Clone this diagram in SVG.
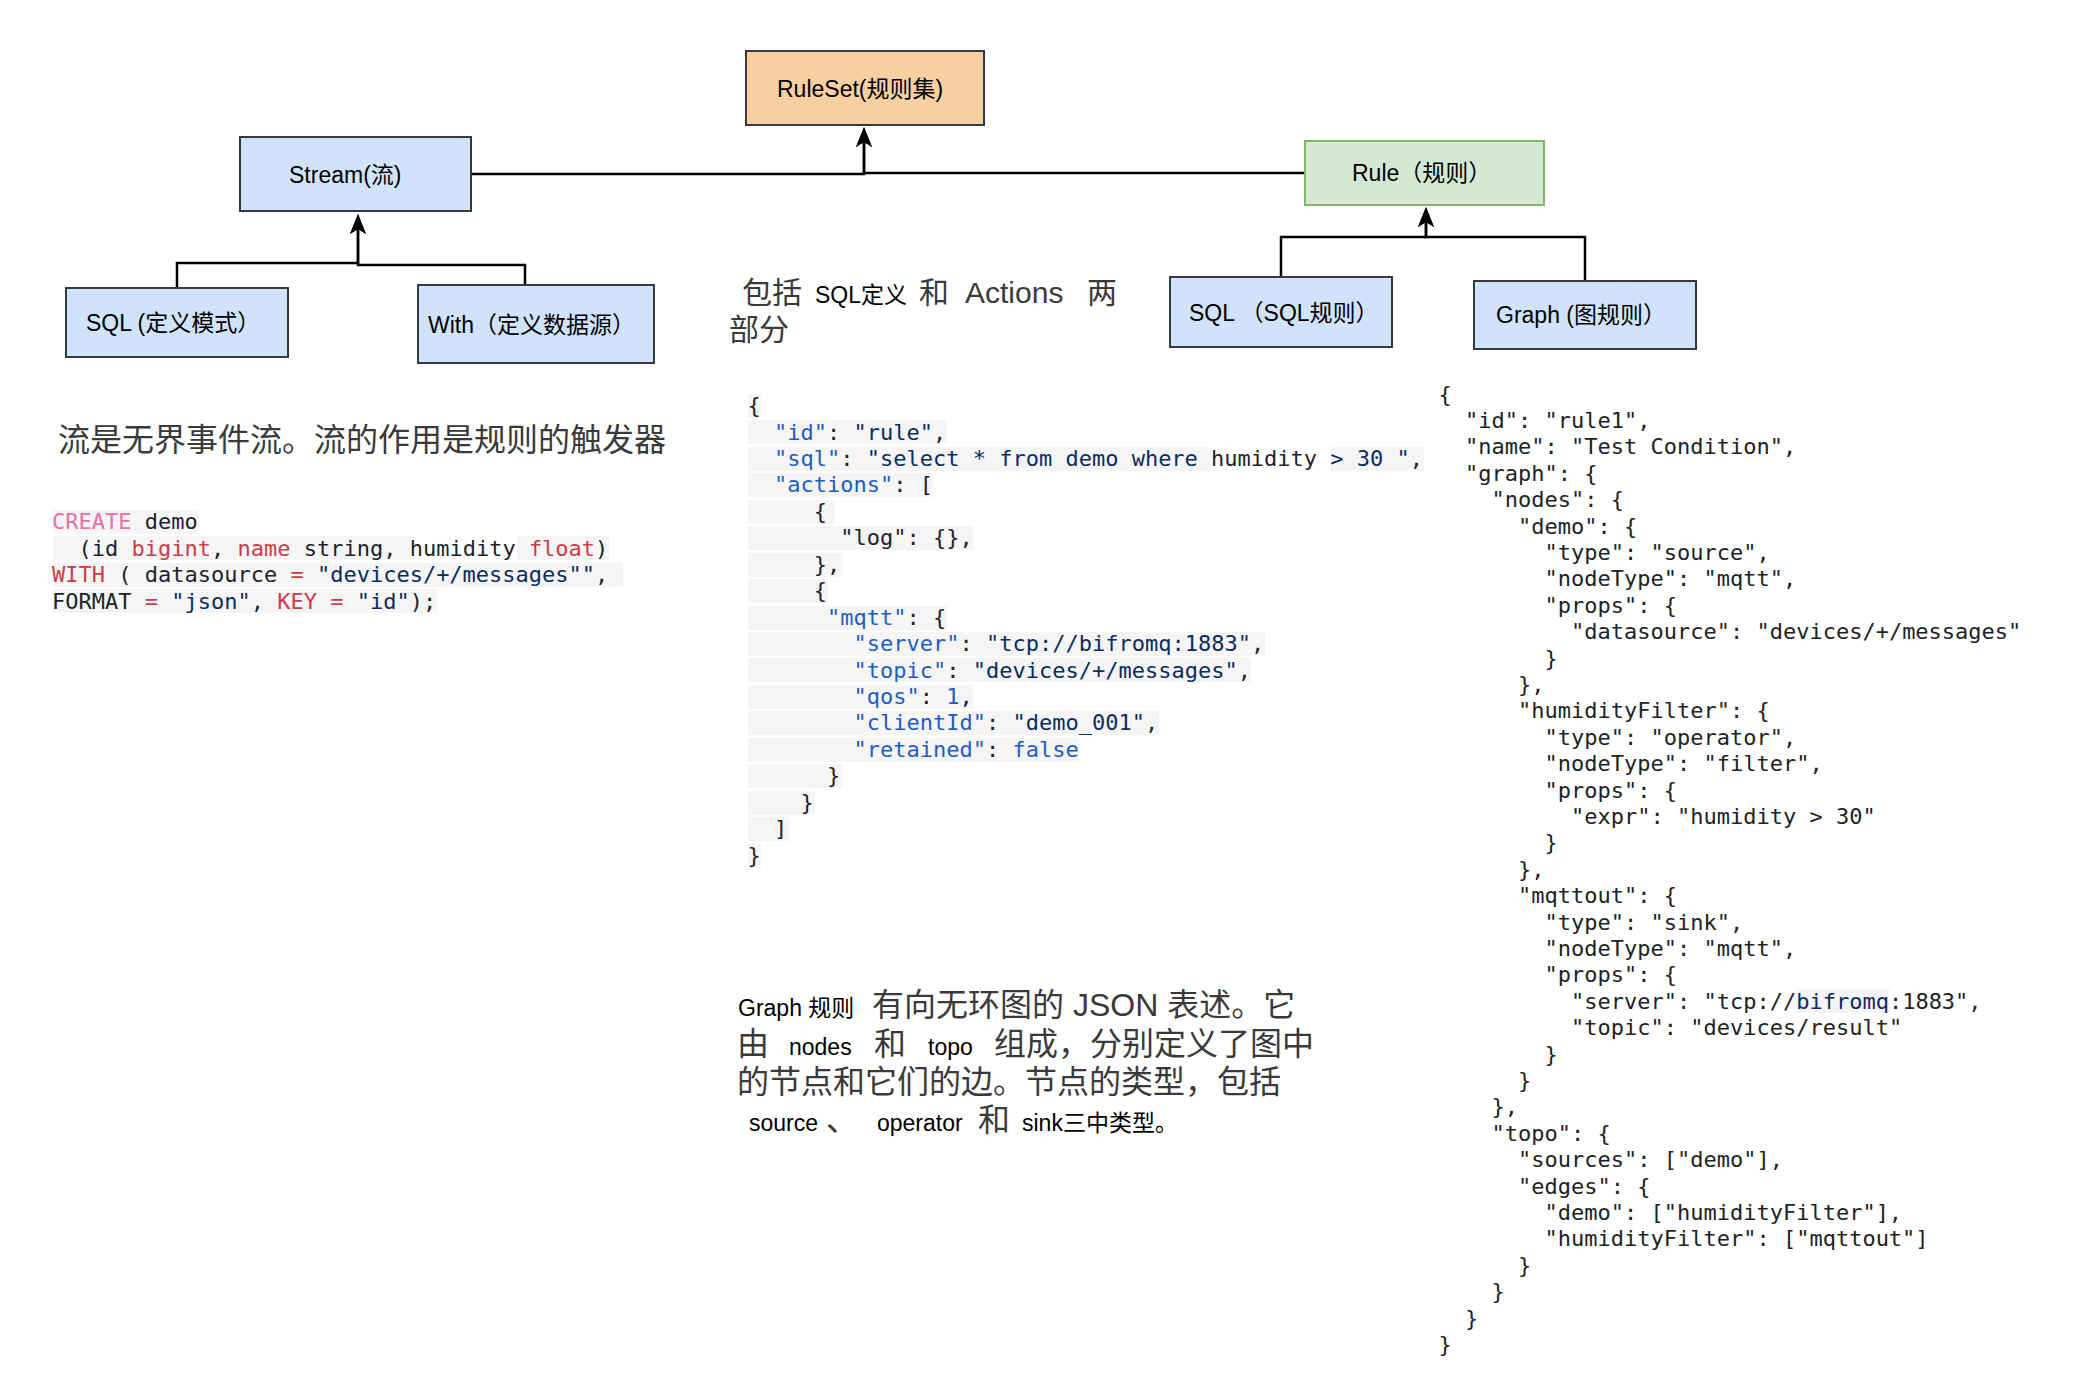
<svg xmlns="http://www.w3.org/2000/svg" width="2084" height="1396" viewBox="0 0 2084 1396">
<style>
.box{stroke:#36393d;stroke-width:2}
.blue{fill:#d1e3fb}
.lbl{font-family:"Liberation Sans","Noto Sans CJK SC",sans-serif;font-size:23px;fill:#000}
.big{font-family:"Liberation Sans","Noto Sans CJK SC",sans-serif;font-size:32px;fill:#3a3a3a}
.mid{font-size:30px;fill:#3a3a3a}
.sm{font-size:23px;fill:#000}
.conn path{fill:none;stroke:#000;stroke-width:2.5}
.code{font-family:"DejaVu Sans Mono","Liberation Mono",monospace;font-size:22px;fill:#1f2328}
.rc{fill:#222}
.k{fill:#1f5cc5}
.s{fill:#0a2c62}
.r{fill:#d03a48}
.pk{fill:#ec6fa9}
.bg{fill:#f5f5f5}
</style>
<defs>
<marker id="arr" viewBox="0 0 20 16" refX="11" refY="8" markerWidth="20" markerHeight="16" markerUnits="userSpaceOnUse" orient="auto">
<path d="M0,0 L20,8 L0,16 L5,8 Z" fill="#000"/>
</marker>
</defs>
<rect width="2084" height="1396" fill="#fff"/>

<g id="connectors" class="conn">
<path d="M471,174 H864 V136" marker-end="url(#arr)"/>
<path d="M1305,173 H864 V136" marker-end="url(#arr)"/>
<path d="M177,288 V263 H358 V223" marker-end="url(#arr)"/>
<path d="M525,285 V265 H358 V223" marker-end="url(#arr)"/>
<path d="M1281,277 V237 H1426 V216" marker-end="url(#arr)"/>
<path d="M1585,281 V237 H1426 V216" marker-end="url(#arr)"/>
</g>

<g id="ruleset">
<rect class="box" x="746" y="51" width="238" height="74" fill="#f8cfa0"/>
<text class="lbl" x="777" y="97">RuleSet(规则集)</text>
</g>
<g id="stream">
<rect class="box blue" x="240" y="137" width="231" height="74"/>
<text class="lbl" x="289" y="183">Stream(流)</text>
</g>
<g id="rule">
<rect x="1305" y="141" width="239" height="64" fill="#d5e8d4" stroke="#82b366" stroke-width="2"/>
<text class="lbl" x="1352" y="181">Rule（规则）</text>
</g>
<g id="sql-schema">
<rect class="box blue" x="66" y="288" width="222" height="69"/>
<text class="lbl" x="86" y="331">SQL (定义模式）</text>
</g>
<g id="with-source">
<rect class="box blue" x="418" y="285" width="236" height="78"/>
<text class="lbl" x="428" y="333">With（定义数据源）</text>
</g>
<g id="sql-rule">
<rect class="box blue" x="1170" y="277" width="222" height="70"/>
<text class="lbl" x="1189" y="321">SQL （SQL规则）</text>
</g>
<g id="graph-rule">
<rect class="box blue" x="1474" y="281" width="222" height="68"/>
<text class="lbl" x="1496" y="323">Graph (图规则）</text>
</g>

<g id="stream-desc">
<text class="big" x="58" y="451">流是无界事件流。流的作用是规则的触发器</text>
</g>

<g id="sql-actions-desc" font-family="'Liberation Sans','Noto Sans CJK SC',sans-serif">
<text y="303"><tspan class="mid" x="742">包括</tspan><tspan class="sm" x="815">SQL定义</tspan><tspan class="mid" x="919">和</tspan><tspan class="mid" x="965">Actions</tspan><tspan class="mid" x="1087">两</tspan></text>
<text y="340"><tspan class="mid" x="729">部分</tspan></text>
</g>

<g id="graph-desc" font-family="'Liberation Sans','Noto Sans CJK SC',sans-serif">
<text y="1016"><tspan class="sm" x="738">Graph 规则</tspan><tspan class="big" x="872">有向无环图的 JSON 表述。它</tspan></text>
<text y="1055"><tspan class="big" x="737">由</tspan><tspan class="sm" x="789">nodes</tspan><tspan class="big" x="874">和</tspan><tspan class="sm" x="928">topo</tspan><tspan class="big" x="994">组成，分别定义了图中</tspan></text>
<text y="1093"><tspan class="big" x="737">的节点和它们的边。节点的类型，包括</tspan></text>
<text y="1131"><tspan class="sm" x="749">source</tspan><tspan class="big" x="826">、</tspan><tspan class="sm" x="877">operator</tspan><tspan class="big" x="978">和</tspan><tspan class="sm" x="1022">sink三中类型。</tspan></text>
</g>

<g id="stream-sql">
<rect class="bg" x="53" y="510" width="146" height="24"/>
<rect class="bg" x="53" y="536" width="358" height="24"/>
<rect class="bg" x="517" y="536" width="92" height="24"/>
<rect class="bg" x="53" y="563" width="570" height="24"/>
<rect class="bg" x="53" y="589" width="384" height="24"/>
<text class="code" xml:space="preserve" x="52" y="529"><tspan class="pk">CREATE</tspan> demo</text>
<text class="code" xml:space="preserve" x="52" y="555.5">  (id <tspan class="r">bigint</tspan>, <tspan class="r">name</tspan> string, humidity <tspan class="r">float</tspan>)</text>
<text class="code" xml:space="preserve" x="52" y="582"><tspan class="r">WITH</tspan> ( datasource <tspan class="r">=</tspan> <tspan class="s">"devices/+/messages""</tspan>,</text>
<text class="code" xml:space="preserve" x="52" y="608.5">FORMAT <tspan class="r">=</tspan> <tspan class="s">"json"</tspan>, <tspan class="r">KEY</tspan> <tspan class="r">=</tspan> <tspan class="s">"id"</tspan>);</text>
</g>

<g id="sql-rule-json">
<rect class="bg" x="748" y="394" width="13" height="24"/>
<rect class="bg" x="748" y="420" width="199" height="24"/>
<rect class="bg" x="748" y="447" width="464" height="24"/>
<rect class="bg" x="1331" y="447" width="93" height="24"/>
<rect class="bg" x="748" y="473" width="185" height="24"/>
<rect class="bg" x="748" y="500" width="87" height="24"/>
<rect class="bg" x="748" y="526" width="225" height="24"/>
<rect class="bg" x="748" y="553" width="94" height="24"/>
<rect class="bg" x="748" y="579" width="80" height="24"/>
<rect class="bg" x="748" y="606" width="199" height="24"/>
<rect class="bg" x="748" y="632" width="517" height="24"/>
<rect class="bg" x="748" y="658" width="503" height="24"/>
<rect class="bg" x="748" y="685" width="225" height="24"/>
<rect class="bg" x="748" y="711" width="411" height="24"/>
<rect class="bg" x="748" y="738" width="331" height="24"/>
<rect class="bg" x="748" y="764" width="94" height="24"/>
<rect class="bg" x="748" y="791" width="67" height="24"/>
<rect class="bg" x="748" y="817" width="41" height="24"/>
<rect class="bg" x="748" y="844" width="13" height="24"/>
<text class="code" xml:space="preserve" x="747.5" y="413">{</text>
<text class="code" xml:space="preserve" x="774" y="439.5"><tspan class="k">"id"</tspan>: <tspan class="s">"rule"</tspan>,</text>
<text class="code" xml:space="preserve" x="774" y="465.9"><tspan class="k">"sql"</tspan>: <tspan class="s">"select * from demo where </tspan>humidity<tspan class="s"> &gt; 30 "</tspan>,</text>
<text class="code" xml:space="preserve" x="774" y="492.4"><tspan class="k">"actions"</tspan>: [</text>
<text class="code" xml:space="preserve" x="813.75" y="518.8">{</text>
<text class="code" xml:space="preserve" x="840.25" y="545.3">"log": {},</text>
<text class="code" xml:space="preserve" x="813.75" y="571.7">},</text>
<text class="code" xml:space="preserve" x="813.75" y="598.2">{</text>
<text class="code" xml:space="preserve" x="827" y="624.6"><tspan class="k">"mqtt"</tspan>: {</text>
<text class="code" xml:space="preserve" x="853.5" y="651.1"><tspan class="k">"server"</tspan>: <tspan class="s">"tcp://bifromq:1883"</tspan>,</text>
<text class="code" xml:space="preserve" x="853.5" y="677.5"><tspan class="k">"topic"</tspan>: <tspan class="s">"devices/+/messages"</tspan>,</text>
<text class="code" xml:space="preserve" x="853.5" y="704"><tspan class="k">"qos"</tspan>: <tspan class="k">1</tspan>,</text>
<text class="code" xml:space="preserve" x="853.5" y="730.4"><tspan class="k">"clientId"</tspan>: <tspan class="s">"demo_001"</tspan>,</text>
<text class="code" xml:space="preserve" x="853.5" y="756.9"><tspan class="k">"retained"</tspan>: <tspan class="k">false</tspan></text>
<text class="code" xml:space="preserve" x="827" y="783.3">}</text>
<text class="code" xml:space="preserve" x="800.5" y="809.8">}</text>
<text class="code" xml:space="preserve" x="774" y="836.2">]</text>
<text class="code" xml:space="preserve" x="747.5" y="862.7">}</text>
</g>

<g id="graph-rule-json" class="code rc">
<rect class="bg" x="1796.5" y="989" width="93" height="24"/>
<text class="code rc" x="1438.5" y="401.5">{</text>
<text class="code rc" x="1465" y="427.9">"id": "rule1",</text>
<text class="code rc" x="1465" y="454.3">"name": "Test Condition",</text>
<text class="code rc" x="1465" y="480.7">"graph": {</text>
<text class="code rc" x="1491.5" y="507.1">"nodes": {</text>
<text class="code rc" x="1518" y="533.5">"demo": {</text>
<text class="code rc" x="1544.5" y="559.9">"type": "source",</text>
<text class="code rc" x="1544.5" y="586.3">"nodeType": "mqtt",</text>
<text class="code rc" x="1544.5" y="612.7">"props": {</text>
<text class="code rc" x="1571" y="639.1">"datasource": "devices/+/messages"</text>
<text class="code rc" x="1544.5" y="665.5">}</text>
<text class="code rc" x="1518" y="691.9">},</text>
<text class="code rc" x="1518" y="718.3">"humidityFilter": {</text>
<text class="code rc" x="1544.5" y="744.7">"type": "operator",</text>
<text class="code rc" x="1544.5" y="771.1">"nodeType": "filter",</text>
<text class="code rc" x="1544.5" y="797.5">"props": {</text>
<text class="code rc" x="1571" y="823.9">"expr": "humidity &gt; 30"</text>
<text class="code rc" x="1544.5" y="850.3">}</text>
<text class="code rc" x="1518" y="876.7">},</text>
<text class="code rc" x="1518" y="903.1">"mqttout": {</text>
<text class="code rc" x="1544.5" y="929.5">"type": "sink",</text>
<text class="code rc" x="1544.5" y="955.9">"nodeType": "mqtt",</text>
<text class="code rc" x="1544.5" y="982.3">"props": {</text>
<text class="code rc" x="1571" y="1008.7">"server": "tcp://<tspan class="s">bifromq</tspan>:1883",</text>
<text class="code rc" x="1571" y="1035.1">"topic": "devices/result"</text>
<text class="code rc" x="1544.5" y="1061.5">}</text>
<text class="code rc" x="1518" y="1087.9">}</text>
<text class="code rc" x="1491.5" y="1114.3">},</text>
<text class="code rc" x="1491.5" y="1140.7">"topo": {</text>
<text class="code rc" x="1518" y="1167.1">"sources": ["demo"],</text>
<text class="code rc" x="1518" y="1193.5">"edges": {</text>
<text class="code rc" x="1544.5" y="1219.9">"demo": ["humidityFilter"],</text>
<text class="code rc" x="1544.5" y="1246.3">"humidityFilter": ["mqttout"]</text>
<text class="code rc" x="1518" y="1272.7">}</text>
<text class="code rc" x="1491.5" y="1299.1">}</text>
<text class="code rc" x="1465" y="1325.5">}</text>
<text class="code rc" x="1438.5" y="1351.9">}</text>
</g>
</svg>
